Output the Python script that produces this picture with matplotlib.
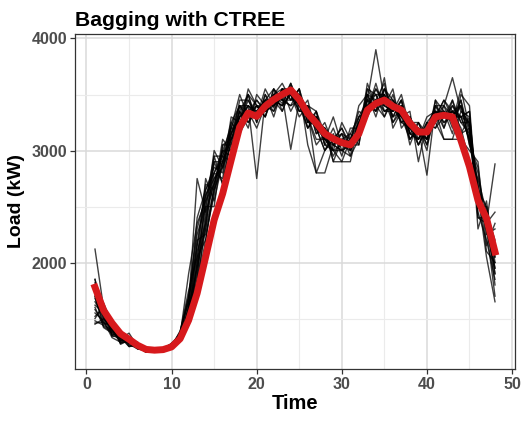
import matplotlib
matplotlib.use("Agg")
import matplotlib.pyplot as plt
from matplotlib.ticker import MultipleLocator

time = list(range(1, 49))

red_line = [1780, 1575, 1460, 1365, 1315, 1262, 1225, 1218,
            1223, 1247, 1320, 1485, 1725, 2050, 2380, 2615,
            2915, 3210, 3335, 3305, 3395, 3455, 3500, 3540,
            3455, 3330, 3245, 3150, 3105, 3070, 3050, 3150,
            3360, 3420, 3450, 3395, 3360, 3245, 3165, 3165,
            3300, 3315, 3300, 3090, 2855, 2555, 2395, 2095]

bag_a = [1850,1560,1400,1300,1330,1250,1210,1230,1210,1260,1380,1700,2150,2600,2800,2950,3250,3400,3300,3450,3350,3500,3420,3580,3350,3450,3150,3250,3050,3150,2950,3300,3450,3350,3550,3300,3450,3150,3250,3050,3400,3250,3350,3150,3300,2600,2450,1900]
bag_b = [1500,1620,1350,1380,1280,1290,1200,1240,1230,1240,1340,1550,1850,2300,2900,2700,3100,3200,3500,3250,3500,3380,3550,3450,3550,3250,3350,3050,3200,3000,3150,3050,3550,3400,3300,3500,3250,3300,3100,3250,3200,3400,3200,3450,3050,2800,2250,2300]
bag_c = [1700,1450,1450,1280,1300,1240,1240,1210,1240,1270,1300,1620,2750,2450,2700,3000,2950,3400,3250,3400,3300,3550,3450,3600,3400,3200,3300,3100,3000,3250,3100,3250,3350,3550,3400,3350,3500,3200,3050,3200,3300,3300,3450,3250,3150,2500,2500,2050]
bag_d = [1450,1500,1420,1330,1250,1270,1220,1220,1200,1280,1360,1480,2000,2750,2550,2900,3150,3300,3400,2750,3450,3450,3350,3550,3500,3350,3200,3000,3100,3050,3000,3200,3500,3450,3600,3250,3400,3100,3200,3100,3450,3350,3250,3550,3200,2700,2300,1700]
bag_e = [1600,1430,1380,1360,1270,1230,1230,1200,1220,1230,1330,1580,1900,2450,3000,2850,3200,3500,3300,3350,3400,3350,3500,3010,3450,3300,3050,3150,2950,3100,3050,3150,3400,3500,3300,3450,3300,3350,2900,3250,3350,3200,3400,3300,3350,2400,2400,1950]
bag_f = [1800,1580,1420,1300,1320,1260,1210,1230,1230,1260,1300,1520,1800,2200,2650,3100,3000,3200,3550,3400,3350,3500,3600,3450,3550,3050,2800,2800,3050,3000,3050,3100,3600,3400,3500,3350,3450,3150,3150,3150,3350,3100,3100,3100,3000,2900,2150,2350]
bag_g = [1650,1520,1350,1320,1370,1250,1200,1220,1210,1250,1390,1650,2100,2350,2750,2850,3050,3450,3450,3300,3550,3400,3550,3550,3400,3400,3350,3050,3000,2900,2900,3250,3450,3900,3450,3400,3350,3250,3250,3100,3300,3450,3300,3400,3100,2650,2500,2100]
bag_h = [2120,1600,1400,1350,1300,1280,1240,1210,1240,1270,1350,1900,2350,2550,2700,2950,3150,3300,3350,3450,3350,3450,3400,3500,3500,3250,3250,3200,3050,3150,3000,3150,3400,3350,3650,3200,3350,3100,3200,2780,3400,3400,3650,3350,3250,2550,2350,2880]
bag_i = [1550,1480,1330,1290,1290,1230,1220,1240,1230,1250,1320,1600,2400,2650,2850,2800,3300,3250,3400,3350,3450,3550,3450,3400,3450,3300,3100,3100,3300,3050,3100,3350,3300,3450,3400,3550,3200,3300,3050,3200,3250,3350,3150,3500,3400,2450,2200,1850]
bag_j = [1750,1640,1460,1270,1310,1270,1230,1200,1220,1240,1380,1750,2050,2500,2500,3050,3100,3350,3200,3500,3400,3400,3500,3500,3350,3350,2800,3000,3100,3200,3050,3050,3450,3400,3500,3300,3450,3150,3100,3250,3200,3300,3350,3200,2900,2750,2450,2200]
bag_k = [1480,1440,1400,1340,1280,1250,1240,1220,1200,1260,1310,1450,1950,2550,2950,2950,2900,3350,3500,3250,3500,3300,3550,3500,3300,3400,3150,3200,2900,3100,3150,3300,3350,3600,3350,3400,3250,3200,3150,3100,3350,3250,3300,3300,3350,2300,2550,2000]
bag_l = [1620,1550,1380,1310,1330,1230,1210,1240,1240,1230,1370,1650,1750,2400,2800,2750,3250,3150,3300,3400,3300,3500,3450,3450,3450,3200,3300,3100,3000,3050,3050,3400,3500,3300,3550,3450,3300,3200,3200,3000,3450,3200,3450,3150,3200,2600,2050,1650]
bag_m = [1850,1500,1420,1370,1260,1260,1220,1200,1230,1280,1330,1550,2200,2250,2600,3050,3050,3250,3450,3300,3450,3450,3400,3600,3400,3300,3200,3000,3150,2950,3200,3200,3550,3500,3350,3350,3400,3050,3250,3150,3300,3350,3250,3400,3050,2850,2300,2150]
bag_n = [1580,1460,1450,1300,1300,1240,1230,1230,1210,1240,1350,1500,2150,2700,2650,2900,3200,3400,3350,3200,3400,3500,3550,3350,3500,3250,3300,3050,3050,3000,2950,3100,3400,3550,3450,3250,3350,3250,3050,3200,3400,3300,3400,3250,3250,2550,2400,1800]
bag_o = [1700,1420,1370,1330,1310,1250,1200,1210,1220,1260,1300,1600,1950,2350,2950,2700,3150,3350,3250,3350,3350,3400,3500,3500,3350,3350,3250,3200,2900,2900,3100,3300,3350,3450,3350,3400,3250,3300,3150,3150,3250,3100,3100,3350,3300,2400,2350,2450]
bag_p = [1520,1600,1340,1350,1250,1260,1230,1220,1230,1250,1360,1700,2300,2600,2750,2900,3100,3300,3500,3400,3300,3550,3350,3550,3450,3200,3350,3150,3100,3200,3000,3250,3450,3400,3550,3400,3300,3100,3200,3100,3300,3450,3350,3300,3100,2700,2100,2000]
bag_q = [1680,1490,1400,1280,1340,1240,1240,1210,1220,1270,1330,1480,1850,2650,2800,3000,3000,3300,3400,3350,3450,3350,3550,3500,3400,3400,3200,3100,3100,3150,3100,3150,3500,3350,3450,3450,3350,3150,3100,3300,3350,3300,3350,3400,3200,2650,2350,1900]
bag_r = [1780,1540,1440,1320,1280,1270,1210,1230,1240,1240,1340,1560,2050,2200,2700,3000,3200,3200,3300,3400,3350,3450,3450,3400,3550,3300,3250,3100,3050,3100,3050,3200,3400,3450,3400,3350,3400,3200,3200,3050,3300,3400,3300,3300,3250,2500,2450,2100]
bag_s = [1460,1470,1360,1340,1300,1250,1220,1210,1210,1250,1300,1500,2000,2300,2650,2850,3150,3400,3400,3300,3400,3400,3500,3550,3400,3350,3300,3150,3000,3000,3050,3150,3450,3500,3500,3300,3350,3200,3100,3200,3350,3350,3300,3450,3150,2600,2300,1950]
bag_t = [1820,1530,1390,1360,1320,1240,1230,1220,1220,1260,1350,1680,2250,2500,2900,2900,3100,3250,3350,3400,3400,3450,3400,3500,3450,3300,3200,3200,3100,3050,3050,3250,3400,3400,3450,3400,3300,3250,3150,3150,3300,3300,3350,3300,3100,2550,2400,2050]

bag_lines = [bag_a, bag_b, bag_c, bag_d, bag_e, bag_f, bag_g, bag_h, bag_i, bag_j,
             bag_k, bag_l, bag_m, bag_n, bag_o, bag_p, bag_q, bag_r, bag_s, bag_t]

x_ticks = [0, 10, 20, 30, 40, 50]
y_ticks = [2000, 3000, 4000]

plt.rcParams['font.family'] = ['Liberation Sans', 'DejaVu Sans']

fig = plt.figure(figsize=(5.23, 4.22), dpi=100)
ax = fig.add_axes([75 / 523, 1 - 369 / 422, (515 - 75) / 523, (369 - 34) / 422])

for ln in bag_lines:
    ax.plot(time, ln, color='black', lw=1.0, alpha=0.75, zorder=3)
ax.plot(time, red_line, color='#D7191C', lw=5.0, zorder=4)

ax.set_xlim(-1.35, 50.35)
ax.set_ylim(1050, 4040)
ax.set_xticks(x_ticks)
ax.set_yticks(y_ticks)
ax.xaxis.set_minor_locator(MultipleLocator(5))
ax.yaxis.set_minor_locator(MultipleLocator(500))
ax.grid(which='major', color='#DADADA', lw=1.1, zorder=0)
ax.grid(which='minor', color='#EBEBEB', lw=0.8, zorder=0)
ax.set_axisbelow(True)
for s in ax.spines.values():
    s.set_color('#333333')
    s.set_linewidth(0.9)
ax.tick_params(which='major', length=3.5, width=0.9, color='#333333',
               labelsize=11.5, labelcolor='#4D4D4D', pad=2)
ax.tick_params(which='minor', length=0)
for lab in ax.get_xticklabels() + ax.get_yticklabels():
    lab.set_fontweight('bold')

ax.set_xlabel('Time', fontsize=14.5, fontweight='bold', labelpad=2)
ax.set_ylabel('Load (kW)', fontsize=14, fontweight='bold', labelpad=5)
ax.set_title('Bagging with CTREE', fontsize=15.2, fontweight='bold', loc='left', pad=6)

fig.savefig('out.png', dpi=100)
